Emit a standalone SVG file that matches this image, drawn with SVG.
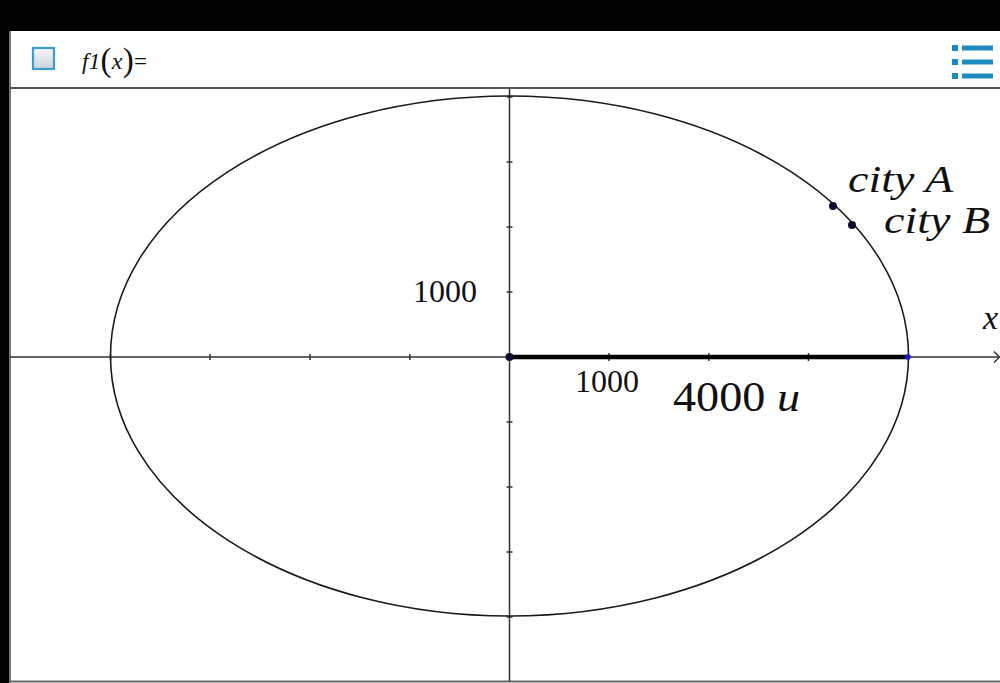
<svg xmlns="http://www.w3.org/2000/svg" width="1000" height="683" viewBox="0 0 1000 683">
<defs>
<linearGradient id="cb" x1="0" y1="0" x2="0" y2="1">
<stop offset="0" stop-color="#f6f8fa"/>
<stop offset="1" stop-color="#c9d3dc"/>
</linearGradient>
<style>
.ax{stroke:#333;stroke-width:1.5;fill:none}
.tk{stroke:#333;stroke-width:1.5}
.lbl{font-family:"Liberation Serif","Times New Roman",serif;fill:#111}
.it{font-style:italic}
.ic{fill:#1e8bc0}
</style>
</defs>
<rect x="0" y="0" width="1000" height="683" fill="#fff"/>
<g id="frame">
<rect x="0" y="0" width="1000" height="31" fill="#000"/>
<rect x="0" y="0" width="9" height="683" fill="#000"/>
<line x1="10" y1="31" x2="10" y2="683" stroke="#777" stroke-width="2"/>
<line x1="10" y1="88" x2="1000" y2="88" stroke="#555" stroke-width="2"/>
<line x1="10" y1="681.5" x2="1000" y2="681.5" stroke="#666" stroke-width="2"/>
</g>
<g id="header">
<rect x="33" y="48" width="21" height="21" fill="url(#cb)" stroke="#3a9dcc" stroke-width="2.2"/>
<text class="lbl" x="82" y="69" font-size="23" textLength="65" lengthAdjust="spacing"><tspan class="it">f1</tspan><tspan font-size="33" dy="2">(</tspan><tspan class="it" font-size="24" dy="-2">x</tspan><tspan font-size="33" dy="2">)</tspan><tspan font-size="23" dy="-2">=</tspan></text>
<rect class="ic" x="952" y="45" width="6" height="6"/>
<rect class="ic" x="962" y="45.5" width="31" height="5"/>
<rect class="ic" x="952" y="59" width="6" height="6"/>
<rect class="ic" x="962" y="59.5" width="31" height="5"/>
<rect class="ic" x="952" y="73" width="6" height="6"/>
<rect class="ic" x="962" y="73.5" width="31" height="5"/>
</g>
<g id="axes">
<line class="ax" x1="10" y1="357" x2="999" y2="357"/>
<polyline class="ax" points="994,351.5 999.5,357 994,362.5"/>
<line class="ax" x1="509.5" y1="89" x2="509.5" y2="681"/>
<g id="xticks">
<line class="tk" x1="110.5" y1="354" x2="110.5" y2="360"/>
<line class="tk" x1="210" y1="354" x2="210" y2="360"/>
<line class="tk" x1="310" y1="354" x2="310" y2="360"/>
<line class="tk" x1="409.8" y1="354" x2="409.8" y2="360"/>
<line class="tk" x1="609" y1="353" x2="609" y2="361"/>
<line class="tk" x1="708.8" y1="353" x2="708.8" y2="361"/>
<line class="tk" x1="808.5" y1="353" x2="808.5" y2="361"/>
</g>
<g id="yticks">
<line class="tk" x1="506.5" y1="97" x2="512.5" y2="97"/>
<line class="tk" x1="506.5" y1="162" x2="512.5" y2="162"/>
<line class="tk" x1="506.5" y1="227" x2="512.5" y2="227"/>
<line class="tk" x1="506.5" y1="292" x2="512.5" y2="292"/>
<line class="tk" x1="506.5" y1="422" x2="512.5" y2="422"/>
<line class="tk" x1="506.5" y1="487" x2="512.5" y2="487"/>
<line class="tk" x1="506.5" y1="552" x2="512.5" y2="552"/>
<line class="tk" x1="506.5" y1="617" x2="512.5" y2="617"/>
</g>
<text class="lbl" x="413" y="302" font-size="32">1000</text>
<text class="lbl" x="575" y="392" font-size="32">1000</text>
<text class="lbl it" x="983" y="329" font-size="34">x</text>
</g>
<g id="ellipse">
<ellipse cx="509.5" cy="356" rx="399" ry="260" fill="none" stroke="#1a1a1a" stroke-width="1.6"/>
</g>
<g id="connectors">
<line x1="509.5" y1="357" x2="908" y2="357" stroke="#000" stroke-width="4.5"/>
</g>
<g id="origin">
<circle cx="509.5" cy="357" r="4" fill="#0c0c2c"/>
</g>
<g id="endpoint">
<circle cx="908" cy="357" r="2.8" fill="#1a1acc"/>
</g>
<g id="segment-label">
<text class="lbl" x="673" y="411" font-size="42" textLength="127" lengthAdjust="spacingAndGlyphs">4000 <tspan class="it">u</tspan></text>
</g>
<g id="cityA">
<circle cx="833" cy="206" r="4" fill="#0c0c2c"/>
<text class="lbl it" x="848" y="192" font-size="38" textLength="105" lengthAdjust="spacingAndGlyphs">city A</text>
</g>
<g id="cityB">
<circle cx="852" cy="225" r="4" fill="#0c0c2c"/>
<text class="lbl it" x="884" y="233" font-size="38" textLength="106" lengthAdjust="spacingAndGlyphs">city B</text>
</g>
</svg>
